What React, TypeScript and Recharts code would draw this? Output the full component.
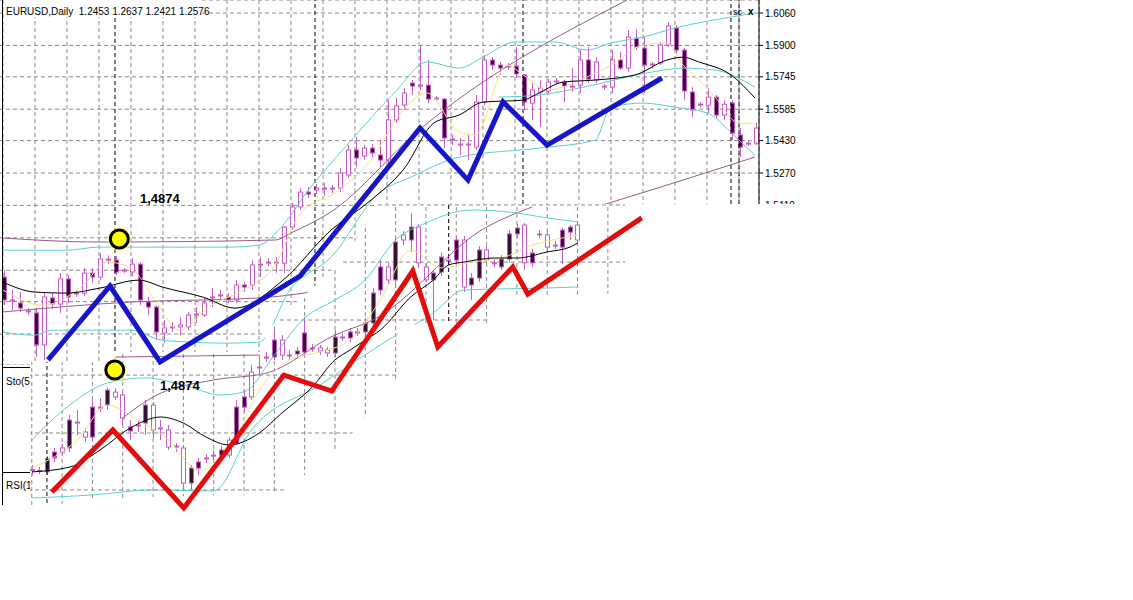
import React from 'react';
import {
  ComposedChart, LineChart, Bar, Line, XAxis, YAxis, CartesianGrid, ReferenceLine, ReferenceDot,
} from 'recharts';

// ---- EURUSD daily window: one candle per day, left to right ----
const dailyOpen = [
  1.4756, 1.4638, 1.4628, 1.4584, 1.4579, 1.4421, 1.4653, 1.4623, 1.4747, 1.4672,
  1.4677, 1.4776, 1.4756, 1.4840, 1.4840, 1.4786, 1.4781, 1.4820, 1.4633, 1.4608,
  1.4480, 1.4505, 1.4510, 1.4510, 1.4569, 1.4569, 1.4653, 1.4663, 1.4658, 1.4643,
  1.4717, 1.4717, 1.4816, 1.4825, 1.4825, 1.4825, 1.5003, 1.5102, 1.5176, 1.5186,
  1.5196, 1.5191, 1.5196, 1.5260, 1.5384, 1.5354, 1.5393, 1.5359, 1.5334, 1.5532,
  1.5606, 1.5714, 1.5699, 1.5704, 1.5635, 1.5635, 1.5433, 1.5408, 1.5408, 1.5398,
  1.5620, 1.5828, 1.5803, 1.5793, 1.5798, 1.5754, 1.5615, 1.5670, 1.5675, 1.5719,
  1.5719, 1.5694, 1.5704, 1.5828, 1.5729, 1.5694, 1.5694, 1.5828, 1.5788, 1.5936,
  1.5887, 1.5803, 1.5813, 1.5902, 1.5986, 1.5877, 1.5670, 1.5605, 1.5605, 1.5645,
  1.5556, 1.5615, 1.5458, 1.5413, 1.5418,
];
const dailyHigh = [
  1.4791, 1.4692, 1.4682, 1.4604, 1.4604, 1.4677, 1.4677, 1.4776, 1.4766, 1.4692,
  1.4801, 1.4801, 1.4874, 1.4864, 1.4860, 1.4801, 1.4850, 1.4830, 1.4658, 1.4618,
  1.4544, 1.4534, 1.4559, 1.4584, 1.4608, 1.4653, 1.4702, 1.4692, 1.4677, 1.4742,
  1.4732, 1.4840, 1.4855, 1.4850, 1.4855, 1.5008, 1.5122, 1.5196, 1.5201, 1.5216,
  1.5220, 1.5211, 1.5295, 1.5408, 1.5448, 1.5408, 1.5413, 1.5433, 1.5630, 1.5640,
  1.5689, 1.5729, 1.5902, 1.5828, 1.5650, 1.5640, 1.5458, 1.5443, 1.5458, 1.5655,
  1.5852, 1.5843, 1.5818, 1.5813, 1.5892, 1.5759, 1.5714, 1.5729, 1.5734, 1.5739,
  1.5729, 1.5788, 1.5877, 1.5892, 1.5843, 1.5709, 1.5877, 1.5867, 1.5976, 1.5981,
  1.5941, 1.5818, 1.5917, 1.6015, 1.6001, 1.5887, 1.5694, 1.5620, 1.5689, 1.5655,
  1.5630, 1.5630, 1.5492, 1.5428, 1.5517,
];
const dailyLow = [
  1.4618, 1.4594, 1.4584, 1.4569, 1.4362, 1.4347, 1.4598, 1.4579, 1.4628, 1.4658,
  1.4663, 1.4727, 1.4742, 1.4820, 1.4766, 1.4776, 1.4761, 1.4618, 1.4569, 1.4445,
  1.4431, 1.4485, 1.4470, 1.4495, 1.4529, 1.4559, 1.4608, 1.4643, 1.4628, 1.4628,
  1.4682, 1.4692, 1.4756, 1.4811, 1.4776, 1.4776, 1.4989, 1.5087, 1.5146, 1.5166,
  1.5156, 1.5171, 1.5176, 1.5245, 1.5300, 1.5334, 1.5349, 1.5300, 1.5319, 1.5517,
  1.5581, 1.5655, 1.5680, 1.5615, 1.5625, 1.5393, 1.5408, 1.5359, 1.5334, 1.5384,
  1.5605, 1.5779, 1.5754, 1.5779, 1.5739, 1.5581, 1.5532, 1.5497, 1.5660, 1.5709,
  1.5620, 1.5670, 1.5665, 1.5714, 1.5714, 1.5680, 1.5665, 1.5779, 1.5768, 1.5877,
  1.5665, 1.5788, 1.5803, 1.5892, 1.5852, 1.5630, 1.5546, 1.5595, 1.5566, 1.5541,
  1.5532, 1.5433, 1.5349, 1.5403, 1.5408,
];
const dailyClose = [
  1.4643, 1.4643, 1.4603, 1.4589, 1.4421, 1.4658, 1.4623, 1.4747, 1.4658, 1.4677,
  1.4776, 1.4756, 1.4845, 1.4845, 1.4781, 1.4791, 1.4820, 1.4643, 1.4608, 1.4485,
  1.4505, 1.4510, 1.4520, 1.4569, 1.4574, 1.4628, 1.4658, 1.4668, 1.4643, 1.4717,
  1.4707, 1.4816, 1.4820, 1.4830, 1.4830, 1.5003, 1.5102, 1.5176, 1.5166, 1.5196,
  1.5191, 1.5196, 1.5270, 1.5384, 1.5344, 1.5393, 1.5369, 1.5334, 1.5532, 1.5601,
  1.5665, 1.5699, 1.5704, 1.5635, 1.5640, 1.5443, 1.5438, 1.5413, 1.5413, 1.5620,
  1.5828, 1.5803, 1.5788, 1.5798, 1.5759, 1.5620, 1.5680, 1.5689, 1.5719, 1.5724,
  1.5699, 1.5699, 1.5828, 1.5734, 1.5818, 1.5699, 1.5828, 1.5788, 1.5941, 1.5892,
  1.5803, 1.5808, 1.5902, 1.5996, 1.5877, 1.5675, 1.5581, 1.5610, 1.5645, 1.5556,
  1.5610, 1.5467, 1.5398, 1.5418, 1.5492,
];

const dailyPriceTicks = [1.4475, 1.4635, 1.479, 1.495, 1.511, 1.527, 1.543, 1.5585, 1.5745, 1.59, 1.606];
const dailyDomain = [1.4322, 1.61242];
const dailySeparators = [14, 39, 65, 91, 92];

// indicator lines as [bar, price]
const dailyBandUpper = [
  [0, 1.4889], [4, 1.4889], [8, 1.4889], [12, 1.4904], [16, 1.4904], [20, 1.4904], [24, 1.4904],
  [28, 1.4904], [32, 1.4914], [35, 1.5013], [38, 1.5176], [43, 1.5408], [49, 1.5669], [53, 1.5818],
  [57, 1.5788], [60, 1.5842], [64, 1.5917], [69, 1.5917], [73, 1.5877], [76, 1.5912], [80, 1.5941],
  [84, 1.5986], [91, 1.604], [94, 1.606],
];
const dailyBandLower = [
  [0, 1.4484], [4, 1.4469], [6, 1.4494], [16, 1.4494], [20, 1.4444], [28, 1.443], [32, 1.4435],
  [36, 1.4701], [41, 1.4854], [47, 1.5171], [51, 1.525], [57, 1.5348], [67, 1.5393], [74, 1.5432],
  [76, 1.5595], [80, 1.5615], [84, 1.5595], [88, 1.5566], [92, 1.5432], [94, 1.5358],
];
const dailyBandInner = [[62, 1.5645], [67, 1.5655], [72, 1.5689], [81, 1.5768], [85, 1.5788], [89, 1.5778], [94, 1.5694]];
const dailySlowMa = [
  [0, 1.4731], [4, 1.4682], [8, 1.4677], [12, 1.4701], [17, 1.4741], [20, 1.4706], [25, 1.4657],
  [29, 1.4603], [35, 1.4741], [41, 1.4988], [46, 1.5136], [50, 1.5284], [54, 1.5521], [57, 1.5556],
  [60, 1.562], [65, 1.563], [67, 1.5665], [70, 1.5719], [74, 1.5729], [79, 1.5754], [83, 1.5828],
  [85, 1.5842], [87, 1.5818], [91, 1.5754], [94, 1.564],
];
const dailyFastMa = [
  [0, 1.4692], [5, 1.4617], [10, 1.4716], [13, 1.483], [16, 1.48], [19, 1.4642], [22, 1.4494],
  [26, 1.4617], [30, 1.4692], [34, 1.4815], [37, 1.5062], [42, 1.5185], [46, 1.5334], [50, 1.5581],
  [53, 1.5665], [57, 1.5472], [59, 1.5457], [63, 1.5803], [65, 1.5754], [68, 1.568], [73, 1.5744],
  [76, 1.5803], [80, 1.5902], [83, 1.5912], [85, 1.5803], [87, 1.5729], [89, 1.5645], [92, 1.5516],
  [94, 1.5516],
];
const dailyChanUpper = [[0, 1.4949], [12, 1.4929], [34, 1.4939], [36, 1.4974], [41, 1.5078], [52, 1.5482], [78, 1.6124]];
const dailyChanLower = [[0, 1.4584], [16, 1.4633], [32, 1.4653], [77, 1.5137], [94, 1.5349]];

// ---- second window pasted below ----
const insetOpen = [
  1.4463, 1.4458, 1.4520, 1.4554, 1.4554, 1.4712, 1.4697, 1.4628, 1.4776, 1.4771,
  1.4860, 1.4826, 1.4722, 1.4678, 1.4683, 1.4786, 1.4663, 1.4668, 1.4579, 1.4579,
  1.4401, 1.4475, 1.4505, 1.4520, 1.4534, 1.4564, 1.4539, 1.4776, 1.4826, 1.4826,
  1.4969, 1.5018, 1.5107, 1.5033, 1.5028, 1.5053, 1.5142, 1.5063, 1.5053, 1.5043,
  1.5122, 1.5117, 1.5147, 1.5142, 1.5191, 1.5339, 1.5468, 1.5404, 1.5591, 1.5601,
  1.5665, 1.5488, 1.5404, 1.5438, 1.5517, 1.5497, 1.5601, 1.5369, 1.5413, 1.5552,
  1.5502, 1.5483, 1.5507, 1.5631, 1.5660, 1.5488, 1.5537, 1.5626, 1.5566, 1.5571,
  1.5650, 1.5665, 1.5601,
];
const insetHigh = [
  1.4490, 1.4480, 1.4535, 1.4574, 1.4594, 1.4737, 1.4762, 1.4673, 1.4811, 1.4821,
  1.4874, 1.4870, 1.4850, 1.4712, 1.4712, 1.4811, 1.4801, 1.4712, 1.4688, 1.4598,
  1.4589, 1.4490, 1.4525, 1.4544, 1.4564, 1.4584, 1.4628, 1.4811, 1.4860, 1.4984,
  1.5033, 1.5048, 1.5157, 1.5132, 1.5058, 1.5073, 1.5221, 1.5088, 1.5083, 1.5073,
  1.5157, 1.5142, 1.5166, 1.5166, 1.5216, 1.5364, 1.5502, 1.5488, 1.5611, 1.5645,
  1.5734, 1.5680, 1.5488, 1.5453, 1.5537, 1.5522, 1.5621, 1.5621, 1.5438, 1.5571,
  1.5571, 1.5507, 1.5527, 1.5650, 1.5680, 1.5685, 1.5557, 1.5650, 1.5645, 1.5596,
  1.5660, 1.5675, 1.5690,
];
const insetLow = [
  1.4441, 1.4446, 1.4441, 1.4505, 1.4539, 1.4554, 1.4638, 1.4603, 1.4613, 1.4752,
  1.4762, 1.4811, 1.4688, 1.4613, 1.4653, 1.4638, 1.4623, 1.4613, 1.4564, 1.4554,
  1.4376, 1.4367, 1.4441, 1.4500, 1.4515, 1.4525, 1.4525, 1.4589, 1.4752, 1.4811,
  1.4934, 1.4999, 1.5009, 1.5009, 1.5009, 1.5018, 1.5028, 1.5048, 1.5033, 1.5023,
  1.5023, 1.5102, 1.5097, 1.5127, 1.5127, 1.5166, 1.5329, 1.5379, 1.5384, 1.5576,
  1.5542, 1.5463, 1.5394, 1.5206, 1.5423, 1.5482, 1.5482, 1.5344, 1.5305, 1.5394,
  1.5482, 1.5468, 1.5453, 1.5488, 1.5611, 1.5453, 1.5468, 1.5611, 1.5547, 1.5557,
  1.5482, 1.5601, 1.5576,
];
const insetClose = [
  1.4468, 1.4463, 1.4456, 1.4525, 1.4574, 1.4574, 1.4702, 1.4653, 1.4628, 1.4776,
  1.4786, 1.4850, 1.4836, 1.4658, 1.4688, 1.4697, 1.4786, 1.4673, 1.4663, 1.4584,
  1.4574, 1.4401, 1.4475, 1.4525, 1.4539, 1.4539, 1.4613, 1.4598, 1.4776, 1.4949,
  1.4974, 1.5023, 1.5023, 1.5107, 1.5033, 1.5038, 1.5048, 1.5068, 1.5068, 1.5058,
  1.5043, 1.5122, 1.5117, 1.5147, 1.5147, 1.5191, 1.5354, 1.5468, 1.5404, 1.5626,
  1.5601, 1.5665, 1.5468, 1.5404, 1.5443, 1.5502, 1.5502, 1.5601, 1.5379, 1.5413,
  1.5552, 1.5488, 1.5468, 1.5507, 1.5631, 1.5675, 1.5488, 1.5631, 1.5626, 1.5576,
  1.5566, 1.5640, 1.5675,
];
const insetSlots = 80;
const insetDomain = [1.42679, 1.57985];
const insetGridTicks = [1.4367, 1.4648, 1.4934, 1.5206, 1.5492, 1.5774];
const insetSeparators = [2, 55];

const insetSlowMa = [
  [0, 1.4456], [5, 1.448], [9, 1.4564], [13, 1.4673], [17, 1.4727], [20, 1.4697], [23, 1.4628],
  [26, 1.4589], [30, 1.4648], [33, 1.4747], [37, 1.4875], [40, 1.5009], [42, 1.5058], [44, 1.5107],
  [46, 1.5157], [50, 1.532], [53, 1.5404], [55, 1.5478], [57, 1.5492], [61, 1.5512], [64, 1.5512],
  [68, 1.5542], [71, 1.5566], [72, 1.5586],
];
const insetBandUpper = [
  [0, 1.4614], [5, 1.4786], [10, 1.4895], [15, 1.492], [20, 1.4885], [25, 1.4836], [28, 1.4851],
  [32, 1.5033], [36, 1.5216], [40, 1.5305], [44, 1.5404], [48, 1.5601], [52, 1.5685], [58, 1.5749],
  [63, 1.5739], [68, 1.571], [72, 1.569],
];
const insetBandLower = [
  [0, 1.4327], [8, 1.4342], [16, 1.4367], [24, 1.4362], [29, 1.4663], [38, 1.4885], [47, 1.5107],
  [53, 1.5241], [57, 1.5354], [68, 1.5364], [72, 1.5369],
];
const insetFastMa = [
  [0, 1.4475], [6, 1.4614], [10, 1.4786], [14, 1.4712], [18, 1.4614], [22, 1.4465], [26, 1.4564],
  [30, 1.486], [34, 1.5009], [38, 1.5048], [42, 1.5107], [46, 1.5305], [50, 1.5552], [54, 1.5463],
  [58, 1.5492], [62, 1.5512], [66, 1.5576], [70, 1.5611], [72, 1.5626],
];
const insetChanUpper = [[12, 1.4722], [16, 1.4826], [24, 1.491], [31, 1.4944], [40, 1.5132], [45, 1.5206], [60, 1.5665], [66, 1.5764]];
const insetChanFlat = [[11, 1.5023], [30, 1.5033]];

// hand-drawn swing lines
const blueIdx = [5.625, 13.375, 19.625, 37.125, 52.125, 58.125, 62.5, 68, 82.375];
const bluePrice = [1.4347, 1.4712, 1.4337, 1.4761, 1.5492, 1.5235, 1.5621, 1.5408, 1.5739];
const redIdx = [2.64, 10.69, 20.05, 33.25, 39.58, 50.26, 53.56, 63.46, 65.44, 80.47];
const redPrice = [1.4357, 1.4663, 1.4278, 1.4934, 1.4855, 1.5448, 1.5073, 1.5468, 1.5334, 1.571];
const dailyMark = { idx: 14.54, price: 1.4944 };
const insetMark = { idx: 10.95, price: 1.4959 };

const FONT = '"Liberation Sans", Arial, sans-serif';
const WICK = '#c25ec2';
const DARK = '#3a0f36';
const CYAN = '#5ccfd0';
const PURPLE = '#9a5a8c';
const YELLOW = '#efe37e';
const GRID = '#8a8a8a';
const NO_MARGIN = { top: 0, right: 0, bottom: 0, left: 0 };

type Row = Record<string, number | undefined>;

function buildRows(n: number, o: number[], h: number[], l: number[], c: number[], lines: Record<string, number[][]>) {
  const rows: Row[] = Array.from({ length: n }, (_, i) => ({ i, open: o[i], high: h[i], low: l[i], close: c[i] }));
  Object.entries(lines).forEach(([key, pts]) => pts.forEach(([i, v]) => { rows[i][key] = v; }));
  return rows;
}

const dailyRows = buildRows(dailyOpen.length, dailyOpen, dailyHigh, dailyLow, dailyClose, {
  bbUp: dailyBandUpper, bbLo: dailyBandLower, bbIn: dailyBandInner, slow: dailySlowMa,
  fast: dailyFastMa, chUp: dailyChanUpper, chLo: dailyChanLower,
});
const insetRows = buildRows(insetSlots, insetOpen, insetHigh, insetLow, insetClose, {
  bbUp: insetBandUpper, bbLo: insetBandLower, slow: insetSlowMa, fast: insetFastMa,
  chUp: insetChanUpper, chFlat: insetChanFlat,
});
const dailyGridIdx = dailyRows.filter((r) => (r.i as number) % 4 === 0).map((r) => r.i as number);
const insetGridIdx = insetRows.filter((r) => (r.i as number) % 4 === 0).map((r) => r.i as number);
const bluePath = blueIdx.map((x, k) => ({ x, y: bluePrice[k] }));
const redPath = redIdx.map((x, k) => ({ x, y: redPrice[k] }));

const candleRange = (d: Row) => (d.high == null ? null : [d.low, d.high]);

function Candle(props: any) {
  const { x, y, width, height, payload } = props;
  if (!payload || payload.high == null) return null;
  const { open, close, high, low } = payload;
  const top = Math.min(y, y + height);
  const h = Math.abs(height);
  const span = high - low;
  const toY = (v: number) => (span > 0 ? top + ((high - v) / span) * h : top);
  const bx = Math.round(x + width / 2 - 2) + 0.5;
  const bTop = toY(Math.max(open, close));
  const bBot = toY(Math.min(open, close));
  return (
    <g>
      <line x1={bx + 2} x2={bx + 2} y1={top} y2={top + h} stroke={WICK} strokeWidth={1} />
      <rect x={bx} y={bTop} width={4} height={Math.max(bBot - bTop, 1)}
        fill={close >= open ? '#ffffff' : DARK} stroke={WICK} strokeWidth={1} />
    </g>
  );
}

const indicator = (key: string, color: string, width = 1, opacity = 1) => (
  <Line key={key} dataKey={key} type="monotone" connectNulls dot={false} activeDot={false}
    stroke={color} strokeWidth={width} strokeOpacity={opacity} isAnimationActive={false} />
);

const layer: React.CSSProperties = { position: 'absolute', left: 0, top: 0, width: 1133, height: 600 };

const dailyClip = 'polygon(0px 0px, 830px 0px, 830px 204px, 378px 204px, 345px 258px, 265px 332px, 265px 352px, 104px 352px, 100px 362px, 30px 362px, 30px 510px, 0px 510px)';
const insetClip = 'polygon(30px 362px, 100px 362px, 104px 352px, 265px 352px, 265px 332px, 345px 258px, 378px 204px, 625px 204px, 625px 293px, 490px 298px, 490px 323px, 398px 325px, 398px 378px, 340px 448px, 280px 494px, 150px 497px, 30px 506px)';

export default function App() {
  return (
    <div style={{ position: 'absolute', left: 0, top: 0, width: 1133, height: 600, background: '#fff', overflow: 'hidden', fontFamily: FONT }}>
      {/* daily window */}
      <div style={{ ...layer, clipPath: dailyClip }}>
        <div style={{ position: 'absolute', left: -1, top: 0 }}>
          <ComposedChart width={820} height={365} data={dailyRows} margin={NO_MARGIN}>
            <CartesianGrid stroke={GRID} strokeDasharray="4 3" />
            <XAxis dataKey="i" type="category" ticks={dailyGridIdx} interval={0} hide />
            <YAxis orientation="right" type="number" domain={dailyDomain} allowDataOverflow ticks={dailyPriceTicks}
              interval={0} width={60} tickSize={4} tick={{ fontSize: 10, fill: '#000', fontFamily: FONT }}
              tickLine={{ stroke: '#000' }} axisLine={{ stroke: '#000' }} tickFormatter={(v: number) => v.toFixed(4)} />
            {dailySeparators.map((i) => (
              <ReferenceLine key={i} x={i} stroke="#000" strokeDasharray="4 3" />
            ))}
            <Bar dataKey={candleRange} shape={(p: any) => <Candle {...p} />} barSize={5} isAnimationActive={false} />
            {indicator('chUp', PURPLE)}
            {indicator('chLo', PURPLE)}
            {indicator('fast', YELLOW)}
            {indicator('bbUp', CYAN)}
            {indicator('bbLo', CYAN)}
            {indicator('bbIn', CYAN)}
            {indicator('slow', '#000')}
          </ComposedChart>
        </div>
      </div>

      {/* left frame and sub-window captions */}
      <svg style={layer} width={1133} height={600}>
        <line x1={2.5} x2={2.5} y1={0} y2={505} stroke="#000" />
        <line x1={2} x2={40} y1={367.5} y2={367.5} stroke="#000" />
        <line x1={2} x2={40} y1={472.5} y2={472.5} stroke="#000" />
        <text x={6} y={385} fontSize={10} fontFamily={FONT}>Sto(5,3,3)</text>
        <text x={6} y={489} fontSize={10} fontFamily={FONT}>RSI(14)</text>
      </svg>

      {/* second window */}
      <div style={{ ...layer, clipPath: insetClip, background: '#fff' }}>
        <div style={{ position: 'absolute', left: 28.2, top: 200 }}>
          <ComposedChart width={606.4} height={310} data={insetRows} margin={NO_MARGIN}>
            <CartesianGrid stroke={GRID} strokeDasharray="4 3" />
            <XAxis dataKey="i" type="category" ticks={insetGridIdx} interval={0} hide />
            <YAxis type="number" domain={insetDomain} allowDataOverflow ticks={insetGridTicks} interval={0} hide />
            {insetSeparators.map((i) => (
              <ReferenceLine key={i} x={i} stroke="#000" strokeDasharray="4 3" />
            ))}
            <Bar dataKey={candleRange} shape={(p: any) => <Candle {...p} />} barSize={5} isAnimationActive={false} />
            {indicator('chUp', PURPLE)}
            {indicator('chFlat', PURPLE)}
            {indicator('fast', YELLOW)}
            {indicator('bbUp', CYAN)}
            {indicator('bbLo', CYAN)}
            {indicator('slow', '#000')}
          </ComposedChart>
        </div>
      </div>

      {/* swing lines and marked highs */}
      <div style={{ position: 'absolute', left: -1, top: 0 }}>
        <LineChart width={760} height={365} margin={NO_MARGIN}>
          <XAxis type="number" dataKey="x" domain={[-0.5, 94.5]} allowDataOverflow hide />
          <YAxis type="number" domain={dailyDomain} allowDataOverflow hide />
          <Line data={bluePath} dataKey="y" type="linear" stroke="#1616c8" strokeWidth={5}
            strokeLinejoin="miter" dot={false} activeDot={false} isAnimationActive={false} />
          <ReferenceDot x={dailyMark.idx} y={dailyMark.price} r={12} fill="#ffff70" fillOpacity={0.55} stroke="none" />
          <ReferenceDot x={dailyMark.idx} y={dailyMark.price} r={9} fill="#ffff00" stroke="#000" strokeWidth={3} />
        </LineChart>
      </div>
      <div style={{ position: 'absolute', left: 28.2, top: 200 }}>
        <LineChart width={644.3} height={320} margin={NO_MARGIN}>
          <XAxis type="number" dataKey="x" domain={[-0.5, 84.5]} allowDataOverflow hide />
          <YAxis type="number" domain={[1.42185, 1.57985]} allowDataOverflow hide />
          <Line data={redPath} dataKey="y" type="linear" stroke="#e30d0d" strokeWidth={5}
            strokeLinejoin="miter" dot={false} activeDot={false} isAnimationActive={false} />
          <ReferenceDot x={insetMark.idx} y={insetMark.price} r={12} fill="#ffff70" fillOpacity={0.55} stroke="none" />
          <ReferenceDot x={insetMark.idx} y={insetMark.price} r={9} fill="#ffff00" stroke="#000" strokeWidth={3} />
        </LineChart>
      </div>

      {/* captions */}
      <svg style={layer} width={1133} height={600}>
        <rect x={4} y={0} width={196} height={17} fill="#fff" />
        <text x={6} y={15} fontSize={10} fontFamily={FONT} style={{ whiteSpace: 'pre' }}>EURUSD,Daily  1.2453 1.2637 1.2421 1.2576</text>
        <text x={733} y={15} fontSize={9} fontFamily={FONT}>sc</text>
        <text x={748} y={15} fontSize={10} fontWeight="bold" fontFamily={FONT}>x</text>
        <text x={140} y={203} fontSize={13} fontWeight="bold" fontFamily={FONT}>1,4874</text>
        <text x={160} y={390} fontSize={13} fontWeight="bold" fontFamily={FONT}>1,4874</text>
      </svg>
    </div>
  );
}
